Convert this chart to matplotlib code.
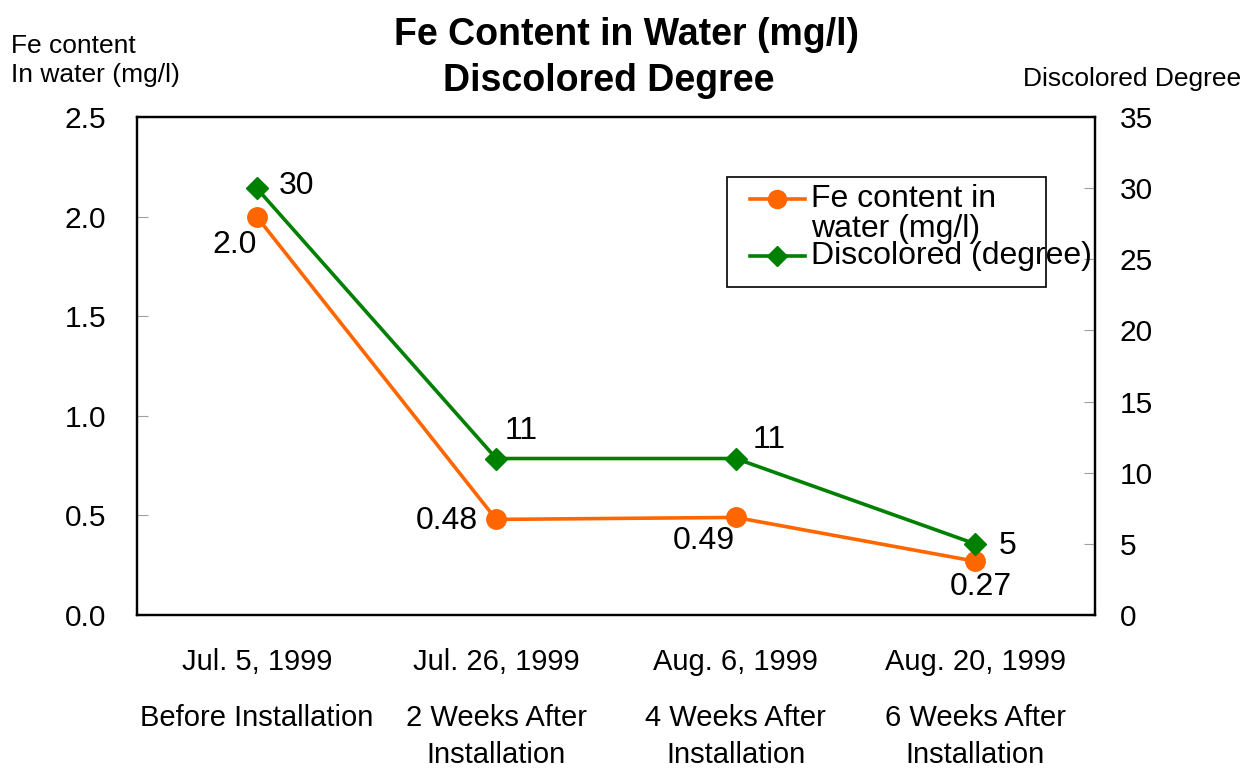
import matplotlib
matplotlib.use("Agg")
import matplotlib.pyplot as plt
from matplotlib.lines import Line2D
from matplotlib.patches import Rectangle
import matplotlib.transforms as mtransforms

dates = ["Jul. 5, 1999", "Jul. 26, 1999", "Aug. 6, 1999", "Aug. 20, 1999"]
stages = ["Before Installation", "2 Weeks After\nInstallation",
          "4 Weeks After\nInstallation", "6 Weeks After\nInstallation"]
fe_values = [2.0, 0.48, 0.49, 0.27]
fe_labels = ["2.0", "0.48", "0.49", "0.27"]
disc_values = [30, 11, 11, 5]
disc_labels = ["30", "11", "11", "5"]

plt.rcParams['font.family'] = ['Liberation Sans', 'DejaVu Sans']
ORANGE = "#FF6600"
GREEN = "#008000"
FS_TICK = 21.5
FS_CAT = 21
FS_DATA = 23
FS_LEG = 23

fig = plt.figure(figsize=(12.45, 7.71), dpi=100)
ax = fig.add_axes([0.110, 0.2023, 0.7695, 0.6459])
ax2 = ax.twinx()

x = list(range(len(dates)))
ax.plot(x, fe_values, color=ORANGE, lw=2.6, marker='o', ms=14, zorder=3)
ax2.plot(x, disc_values, color=GREEN, lw=2.6, marker='D', ms=11, zorder=3)

ax.set_xlim(-0.5, 3.5)
ax.set_ylim(0, 2.5)
ax2.set_ylim(0, 35)
ax.set_yticks([0, 0.5, 1.0, 1.5, 2.0, 2.5])
ax.set_yticklabels(["0.0", "0.5", "1.0", "1.5", "2.0", "2.5"])
ax2.set_yticks([0, 5, 10, 15, 20, 25, 30, 35])
ax.set_xticks([])
ax.tick_params(axis='y', direction='in', length=8, color='#a0a0a0', labelsize=FS_TICK, pad=22)
ax2.tick_params(axis='y', direction='in', length=8, color='#a0a0a0', labelsize=FS_TICK, pad=18)
for a in (ax, ax2):
    for s in a.spines.values():
        s.set_linewidth(1.6)
        s.set_color('black')

# data labels
fe_offsets = [(-22, -28), (-49, -2), (-32, -24), (6, -26)]
for xi, v, lab, (dx, dy) in zip(x, fe_values, fe_labels, fe_offsets):
    ax.annotate(lab, (xi, v), xytext=(dx, dy), textcoords='offset pixels',
                ha='center', va='center', fontsize=FS_DATA)
disc_offsets = [(40, 2), (25, 28), (33, 19), (32, -2)]
for xi, v, lab, (dx, dy) in zip(x, disc_values, disc_labels, disc_offsets):
    ax2.annotate(lab, (xi, v), xytext=(dx, dy), textcoords='offset pixels',
                 ha='center', va='center', fontsize=FS_DATA)

# category labels
trans = mtransforms.blended_transform_factory(ax.transData, ax.transAxes)
for xi, d, s in zip(x, dates, stages):
    ax.text(xi, -0.094, d, transform=trans, ha='center', va='center', fontsize=FS_CAT)
    ax.text(xi, -0.179, s, transform=trans, ha='center', va='top', fontsize=FS_CAT,
            linespacing=1.4)

# titles
fig.text(0.503, 0.955, "Fe Content in Water (mg/l)", ha='center', va='center',
         fontsize=27, fontweight='bold')
fig.text(0.489, 0.895, "Discolored Degree", ha='center', va='center',
         fontsize=27, fontweight='bold')
fig.text(0.009, 0.922, "Fe content\nIn water (mg/l)", ha='left', va='center',
         fontsize=19, linespacing=1.25)
fig.text(0.997, 0.898, "Discolored Degree", ha='right', va='center', fontsize=19)

# legend (manual)
lx0, ly0, lx1, ly1 = 727 / 1245, 1 - 287 / 771, 1046 / 1245, 1 - 177 / 771
fig.patches.append(Rectangle((lx0, ly0), lx1 - lx0, ly1 - ly0, transform=fig.transFigure,
                             fill=True, facecolor='white', edgecolor='black', lw=1.2, zorder=5))
for yy, col, mk, ms in [(1 - 199 / 771, ORANGE, 'o', 13), (1 - 256 / 771, GREEN, 'D', 10)]:
    fig.add_artist(Line2D([750 / 1245, 805 / 1245], [yy, yy], transform=fig.transFigure,
                          color=col, lw=2.6, zorder=6))
    fig.add_artist(Line2D([777 / 1245], [yy], transform=fig.transFigure, color=col,
                          marker=mk, ms=ms, zorder=6))
fig.text(811 / 1245, 1 - 214 / 771, "Fe content in\nwater (mg/l)", ha='left', va='center',
         fontsize=FS_LEG, linespacing=1.0, zorder=7)
fig.text(811 / 1245, 1 - 256 / 771, "Discolored (degree)", ha='left', va='center',
         fontsize=FS_LEG, zorder=7)

fig.savefig("out.png", dpi=100)
